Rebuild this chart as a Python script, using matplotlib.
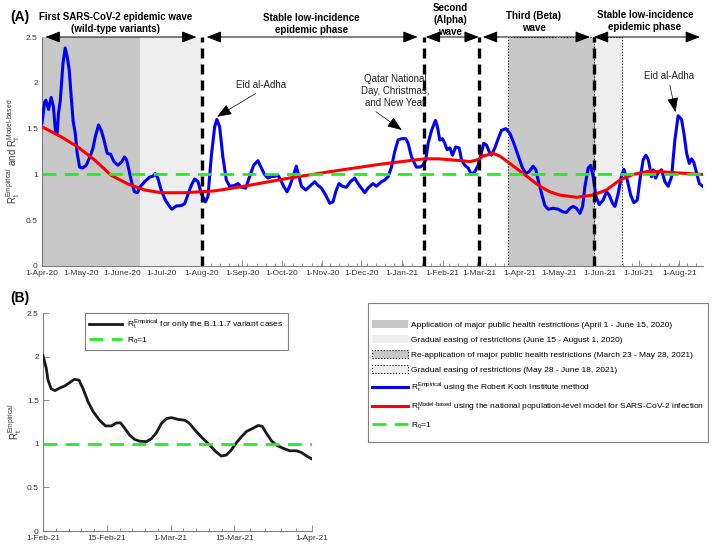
import numpy as np
import matplotlib
matplotlib.use('Agg')
import matplotlib.pyplot as plt
import matplotlib.dates as mdates
from matplotlib.patches import Patch, Rectangle
from matplotlib.lines import Line2D

plt.rcParams['font.family'] = ['Liberation Sans', 'DejaVu Sans']
plt.rcParams['mathtext.fontset'] = 'custom'
plt.rcParams['mathtext.rm'] = 'Liberation Sans'
plt.rcParams['mathtext.it'] = 'Liberation Sans:italic'
plt.rcParams['mathtext.bf'] = 'Liberation Sans:bold'
plt.rcParams['mathtext.default'] = 'regular'

# ---------------- data ----------------
START_A = np.datetime64('2020-04-01')
START_B = np.datetime64('2021-02-01')

# panel A: days since 1-Apr-2020
rt_emp_days = [0, 2, 3, 5, 7, 8.7, 10.3, 11.6, 12.6, 14, 16, 17.7, 19.2, 20.8, 22.3, 23.8,
               25.4, 26.9, 28.7, 31, 33.8, 36.3, 38.8, 40.7, 43.2, 45.3, 47.3, 49.8, 52.4,
               54.9, 58, 61, 63, 64.6, 66.4, 68.7, 70.7, 72.8, 75.3, 78.4, 82.2, 84.7, 86.5,
               88.5, 91, 94.2, 97.5, 99.2, 102.6, 106.4, 109, 111.5, 114, 116.6, 119.2,
               121.7, 124.8, 126.8, 129.3, 131.9, 133.6, 135.7, 138.2, 140.8, 143.3, 147.2,
               149.7, 152.3, 155.6, 158.6, 161.7, 165, 167.6, 170, 172.6, 175.2, 177.8,
               180.3, 182.3, 184.6, 187.2, 189.2, 191.8, 194.3, 196.3, 198.2, 201.5, 204.5,
               208.3, 210.9, 213.5, 216.7, 219.8, 222.3, 224.4, 226.9, 229.5, 232.6, 235.6,
               238.9, 241.4, 244, 246.6, 249, 252.9, 255.5, 259.3, 262, 264.4, 267, 269.5,
               272, 274.6, 277.9, 279.7, 282.3, 286, 288.6, 291, 293.2, 295, 297.6, 300.6,
               302.1, 303.9, 306, 307.7, 309.5, 311.6, 313.6, 316, 318.7, 320.5, 323, 325.6,
               328, 330.7, 333.2, 335.3, 337.5, 339.6, 341.6, 343.4, 346, 348.5, 351, 354.4,
               357.4, 360.5, 363.7, 367.1, 369.7, 372.2, 375.2, 377.3, 379, 381.7, 384.2,
               386.7, 390.5, 394.3, 398.2, 400.7, 403.3, 405.8, 408.4, 411, 413, 414.8,
               417.3, 419.2, 421.1, 423.2, 425.7, 428.7, 431.3, 433.3, 435.9, 437.7, 440.2,
               442.8, 444.6, 447.1, 449.7, 452.2, 454.8, 456.8, 459.3, 461.4, 463.2, 465.7,
               467, 468.8, 470.8, 473.3, 475.9, 478.4, 481, 483.5, 486, 488.6, 490.4, 492.5,
               494.5, 496.3, 498, 500.2, 502.2, 504.8]
rt_emp_vals = [1.56, 1.79, 1.81, 1.71, 1.84, 1.74, 1.47, 1.45, 1.67, 1.81, 2.21, 2.38, 2.29,
               2.14, 1.85, 1.58, 1.45, 1.23, 1.08, 1.07, 1.10, 1.18, 1.28, 1.41, 1.54, 1.48,
               1.38, 1.23, 1.22, 1.14, 1.10, 1.14, 1.19, 1.16, 1.05, 0.90, 0.81, 0.80, 0.87,
               0.92, 0.97, 0.98, 1.01, 0.96, 0.83, 0.72, 0.65, 0.62, 0.655, 0.66, 0.68, 0.78,
               0.88, 0.95, 0.92, 0.79, 0.70, 0.76, 1.19, 1.52, 1.60, 1.52, 1.19, 0.94, 0.87,
               0.88, 0.90, 0.86, 0.85, 0.975, 1.10, 1.15, 1.07, 1.00, 0.96, 0.975, 0.98, 0.99,
               0.94, 0.87, 0.81, 0.87, 0.975, 1.09, 0.975, 0.87, 0.83, 0.87, 0.92, 0.88, 0.85,
               0.775, 0.685, 0.70, 0.81, 0.90, 0.87, 0.86, 0.92, 0.96, 0.90, 0.85, 0.80, 0.85,
               0.90, 0.87, 0.92, 0.94, 0.975, 1.08, 1.25, 1.375, 1.39, 1.39, 1.34, 1.19, 1.08,
               1.08, 1.10, 1.16, 1.34, 1.48, 1.59, 1.52, 1.375, 1.39, 1.34, 1.27, 1.29, 1.21,
               1.30, 1.29, 1.16, 1.10, 1.07, 1.00, 1.03, 1.10, 1.21, 1.34, 1.32, 1.25, 1.21,
               1.29, 1.39, 1.48, 1.50, 1.45, 1.34, 1.21, 1.07, 1.01, 1.03, 1.09, 1.05, 0.94,
               0.79, 0.66, 0.62, 0.63, 0.62, 0.59, 0.585, 0.63, 0.65, 0.63, 0.575, 0.65, 0.87,
               1.07, 1.10, 0.975, 0.76, 0.67, 0.72, 0.81, 0.775, 0.685, 0.65, 0.79, 0.99,
               1.055, 0.94, 0.775, 0.69, 0.72, 0.94, 1.16, 1.21, 1.16, 0.975, 1.05, 0.96, 1.02,
               1.05, 0.92, 0.87, 0.975, 1.375, 1.64, 1.60, 1.45, 1.23, 1.12, 1.17, 1.13, 1.01,
               0.90, 0.87]

rt_model_days = [0, 14.7, 27.3, 40, 52.9, 65.6, 78.4, 91, 109, 120.4, 131.9, 150, 189, 220,
                 258, 292, 303, 320, 327, 333, 337, 344.6, 349.8, 357.4, 367.6, 380.4, 388,
                 395.6, 408.4, 421, 431.3, 441.5, 451.7, 461.9, 472, 482, 504]
rt_model_vals = [1.52, 1.41, 1.30, 1.16, 0.99, 0.895, 0.83, 0.80, 0.80, 0.81, 0.82, 0.86,
                 0.96, 1.03, 1.11, 1.17, 1.17, 1.15, 1.14, 1.16, 1.20, 1.23, 1.20, 1.12, 1.01,
                 0.87, 0.81, 0.775, 0.75, 0.775, 0.83, 0.94, 1.00, 1.03, 1.03, 1.02, 1.00]

# panel B: days since 1-Feb-2021
b117_days = [0, 0.7, 1.1, 1.8, 2.6, 3.7, 4.8, 5.8, 6.9, 7.9, 8.8, 9.9, 11, 12.4, 13.7, 15,
             16.1, 17, 17.9, 19, 20.1, 21.2, 22.7, 23.8, 24.9, 26, 27.1, 28.2, 29.6, 31.1,
             32, 33.3, 34.8, 36.2, 37.7, 39.1, 40.2, 41.3, 42.4, 43.5, 44.6, 46.1, 47.2,
             48.1, 49, 50.1, 51.2, 52.6, 54.1, 55.6, 56.7, 57.8, 59]
b117_vals = [2.01, 1.87, 1.73, 1.63, 1.61, 1.64, 1.665, 1.70, 1.74, 1.73, 1.63, 1.48, 1.37,
             1.27, 1.205, 1.205, 1.24, 1.24, 1.18, 1.10, 1.05, 1.03, 1.025, 1.06, 1.13, 1.235,
             1.29, 1.30, 1.28, 1.27, 1.24, 1.16, 1.075, 1.005, 0.92, 0.86, 0.87, 0.93, 1.01,
             1.08, 1.14, 1.18, 1.21, 1.20, 1.12, 1.035, 0.985, 0.95, 0.92, 0.92, 0.90, 0.86,
             0.825]

r0 = 1.0

restriction_2020 = ('2020-04-01', '2020-06-15')
easing_2020 = ('2020-06-15', '2020-08-01')
restriction_2021 = ('2021-03-23', '2021-05-28')
easing_2021 = ('2021-05-28', '2021-06-18')
phase_breaks = ['2020-08-01', '2021-01-18', '2021-03-01', '2021-05-28']

month_labels_a = ['1-Apr-20', '1-May-20', '1-June-20', '1-Jul-20', '1-Aug-20', '1-Sep-20',
                  '1-Oct-20', '1-Nov-20', '1-Dec-20', '1-Jan-21', '1-Feb-21', '1-Mar-21',
                  '1-Apr-21', '1-May-21', '1-Jun-21', '1-Jul-21', '1-Aug-21']
tick_dates_b = ['2021-02-01', '2021-02-15', '2021-03-01', '2021-03-15', '2021-04-01']
tick_labels_b = ['1-Feb-21', '15-Feb-21', '1-Mar-21', '15-Mar-21', '1-Apr-21']

# phase captions: (text, arrow start day, arrow end day, text day, text height)
phases = [
    ('First SARS-CoV-2 epidemic wave\n(wild-type variants)', 2.7, 118, 56, 2.658),
    ('Stable low-incidence\nepidemic phase', 125.8, 287, 206, 2.647),
    ('Second\n(Alpha)\nwave', 293.2, 333.7, 312, 2.686),
    ('Third (Beta)\nwave', 336.8, 418.6, 375.8, 2.664),
    ('Stable low-incidence\nepidemic phase', 421.6, 502.7, 460.6, 2.675),
]
# event notes: (text, tip day, tip value, text day, text value, arrow start along text)
events = [
    ('Eid al-Adha', 133.8, 1.63, 167.6, 1.976, 0.5),
    ('Qatar National\nDay, Christmas,\nand New Year', 274.8, 1.485, 269.5, 1.91, 0.15),
    ('Eid al-Adha', 484, 1.68, 479, 2.074, 0.5),
]


def dnum(start, days):
    return mdates.date2num(start) + np.asarray(days, dtype=float)


def snum(s):
    return mdates.date2num(np.datetime64(s))


GREY_AX = '#7f7f7f'
TXT = '#3a3a3a'
DARK = '#c8c8c8'
LIGHT = '#eeeeee'
GREEN = '#22ee22'

fig = plt.figure(figsize=(7.17, 5.57), dpi=100)

# ---------------- panel A ----------------
axA = fig.add_axes([42 / 717, 1 - 266 / 557, (703 - 42) / 717, (266 - 37) / 557])
axA.axvspan(snum(restriction_2020[0]), snum(restriction_2020[1]), color=DARK, lw=0, zorder=2)
axA.axvspan(snum(easing_2020[0]), snum(easing_2020[1]), color=LIGHT, lw=0, zorder=2)
axA.axvspan(snum(restriction_2021[0]), snum(restriction_2021[1]), facecolor=DARK,
            edgecolor='black', ls=':', lw=0.8, zorder=2)
axA.axvspan(snum(easing_2021[0]), snum(easing_2021[1]), facecolor=LIGHT,
            edgecolor='black', ls=':', lw=0.8, zorder=2)

axA.plot(dnum(START_A, rt_emp_days), rt_emp_vals, color='#0000ff', lw=2.2, zorder=3)
axA.plot(dnum(START_A, rt_model_days), rt_model_vals, color='#ff0000', lw=2.2, zorder=4)
axA.axhline(r0, color=GREEN, lw=2, ls=(0, (5, 3)), zorder=5)
axA.vlines([snum(d) for d in phase_breaks], 0, 2.5, colors='black', lw=2.4,
           linestyles=[(0, (3, 1.8))], zorder=6)

axA.set_xlim(dnum(START_A, 0), dnum(START_A, 505))
axA.set_ylim(0, 2.5)
month_starts = np.arange('2020-04', '2021-09', dtype='datetime64[M]').astype('datetime64[D]')
axA.set_xticks([mdates.date2num(d) for d in month_starts])
axA.set_xticklabels(month_labels_a)
weeks = np.arange(np.datetime64('2020-08-01'), np.datetime64('2021-08-20'), 7)
axA.set_xticks([mdates.date2num(d) for d in weeks], minor=True)
axA.set_yticks([0, 0.5, 1, 1.5, 2, 2.5])
axA.set_yticklabels(['0', '0.5', '1', '1.5', '2', '2.5'])
axA.set_ylabel(r'$R_t^{Empirical}$ and $R_t^{Model\text{-}based}$', fontsize=7, color=TXT)
axA.yaxis.set_label_coords(-20 / 661, 0.5)

# phase arrows and captions
for text, x0, x1, xt, yt in phases:
    axA.annotate('', xy=(dnum(START_A, x0), 2.5), xytext=(dnum(START_A, x1), 2.5),
                 arrowprops=dict(arrowstyle='<|-|>,head_length=0.9,head_width=0.35',
                                 color='black', lw=0.7, shrinkA=0, shrinkB=0,
                                 mutation_scale=10),
                 annotation_clip=False, zorder=7)
    axA.text(dnum(START_A, xt), yt, text, ha='center', va='center', fontsize=7,
             fontweight='bold', linespacing=1.25, clip_on=False)

for text, xd, yv, xt, yt, rp in events:
    axA.annotate(text, xy=(dnum(START_A, xd), yv), xytext=(dnum(START_A, xt), yt),
                 ha='center', va='center', fontsize=7, color='#222222', linespacing=1.25,
                 arrowprops=dict(arrowstyle='-|>,head_length=0.9,head_width=0.35',
                                 color='black', lw=0.5, shrinkA=1, shrinkB=0,
                                 relpos=(rp, 0), mutation_scale=10),
                 zorder=8)

# ---------------- panel B ----------------
axB = fig.add_axes([43 / 717, 1 - 531 / 557, 269 / 717, 218 / 557])
lb, = axB.plot(dnum(START_B, b117_days), b117_vals, color='#1a1a1a', lw=2.0, zorder=3)
lg = axB.axhline(r0, color=GREEN, lw=2, ls=(0, (5, 3)), zorder=4)
axB.set_xlim(dnum(START_B, 0), dnum(START_B, 59))
axB.set_ylim(0, 2.5)
bt = [snum(d) for d in tick_dates_b]
axB.set_xticks(bt)
axB.set_xticklabels(tick_labels_b)
axB.set_xticks(np.concatenate([np.linspace(a, b, 6)[1:-1] for a, b in zip(bt[:-1], bt[1:])]),
               minor=True)
axB.set_yticks([0, 0.5, 1, 1.5, 2, 2.5])
axB.set_yticklabels(['0', '0.5', '1', '1.5', '2', '2.5'])
axB.set_ylabel(r'$R_t^{Empirical}$', fontsize=7, color=TXT)
axB.yaxis.set_label_coords(-19 / 269, 0.5)
legB = axB.legend([lb, lg], [r'$R_t^{Empirical}$ for only the B.1.1.7 variant cases',
                             r'$R_0$=1'],
                  loc='upper left', bbox_to_anchor=(0.156, 1.0), borderaxespad=0,
                  fontsize=6, handlelength=3.9, handletextpad=0.7, fancybox=False,
                  edgecolor=GREY_AX, framealpha=1, labelspacing=0.45, borderpad=0.5)
legB.get_frame().set_linewidth(0.8)

for ax in [axA, axB]:
    for s in ['top', 'right']:
        ax.spines[s].set_visible(False)
    for s in ['left', 'bottom']:
        ax.spines[s].set_color(GREY_AX)
        ax.spines[s].set_linewidth(0.8)
    ax.tick_params(which='both', direction='in', colors=GREY_AX, labelcolor=TXT,
                   labelsize=6, width=0.6)
    ax.tick_params(which='major', length=4, pad=3)
    ax.tick_params(which='minor', length=2.5)

# ---------------- shared legend ----------------
handles = [
    Patch(facecolor=DARK, edgecolor='none'),
    Patch(facecolor=LIGHT, edgecolor='none'),
    Patch(facecolor=DARK, edgecolor='black', ls=':', lw=0.8),
    Patch(facecolor=LIGHT, edgecolor='black', ls=':', lw=0.8),
    Line2D([], [], color='#0000ff', lw=2.2),
    Line2D([], [], color='#ff0000', lw=2.2),
    Line2D([], [], color=GREEN, lw=2, ls=(0, (5, 3))),
]
labels = [
    'Application of major public health restrictions (April 1 - June 15, 2020)',
    'Gradual easing of restrictions (June 15 - August 1, 2020)',
    'Re-application of major public health restrictions (March 23 - May 28, 2021)',
    'Gradual easing of restrictions (May 28 - June 18, 2021)',
    r'$R_t^{Empirical}$ using the Robert Koch Institute method',
    r'$R_t^{Model\text{-}based}$ using the national population-level model for SARS-CoV-2 infection',
    r'$R_0$=1',
]
fig.add_artist(Rectangle((368 / 717, 1 - 442 / 557), 340 / 717, 139 / 557,
                         transform=fig.transFigure, facecolor='white',
                         edgecolor=GREY_AX, lw=0.8, zorder=1))
leg = fig.legend(handles, labels, loc='upper left', bbox_to_anchor=(372 / 717, 1 - 320 / 557),
                 fontsize=6, handlelength=4.3, handleheight=1.1, handletextpad=0.35,
                 frameon=False, labelspacing=0.75, borderpad=0, borderaxespad=0)
leg.set_zorder(2)

fig.text(10 / 717, 1 - 17 / 557, '(A)', fontsize=10, fontweight='bold', va='center')
fig.text(10 / 717, 1 - 298 / 557, '(B)', fontsize=10, fontweight='bold', va='center')

fig.savefig('out.png', dpi=100)
